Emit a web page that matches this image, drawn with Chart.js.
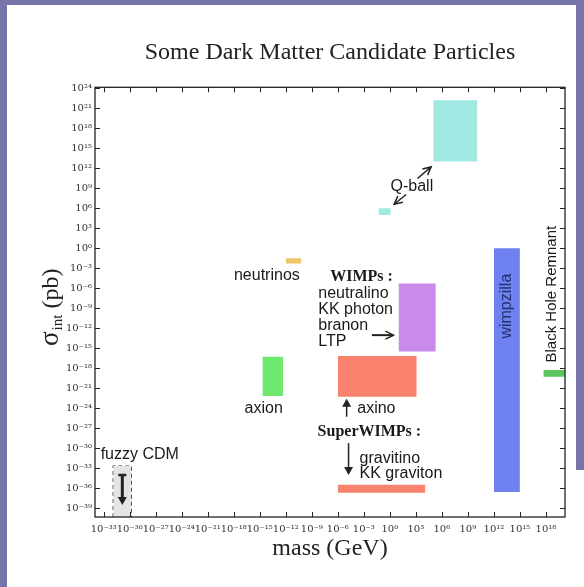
<!DOCTYPE html>
<html>
<head>
<meta charset="utf-8">
<script src="https://cdn.jsdelivr.net/npm/chart.js@4.4.0/dist/chart.umd.min.js"></script>
<style>
  html, body { margin: 0; padding: 0; background: #fff; }
</style>
</head>
<body>
<canvas id="chart" width="584" height="587"></canvas>
<script>
// every value is log10 (mass in GeV, cross section in pb)
const candidates = ['fuzzy CDM', 'axion', 'neutrinos', 'Q-ball', 'Q-ball', 'WIMPs', 'axino', 'gravitino / KK graviton', 'wimpzilla', 'Black Hole Remnant'];
const massLow   = [-31.9, -14.7, -12.0, -1.3,  5.0,   1.0,  -6.0,  -6.0,  12.0,  17.7];
const massHigh  = [-29.8, -12.3, -10.2,  0.1, 10.1,   5.3,   3.1,   4.1,  15.0,  20.2];
const sigmaLow  = [-40.35, -22.2, -2.3,  5.0, 13.0, -15.5, -22.3, -36.7, -36.6, -19.3];
const sigmaHigh = [-32.7, -16.3,  -1.5,  6.0, 22.2,  -5.3, -16.2, -35.5,   0.0, -18.3];

const massTicks  = [-33, -30, -27, -24, -21, -18, -15, -12, -9, -6, -3, 0, 3, 6, 9, 12, 15, 18];
const sigmaTicks = [-39, -36, -33, -30, -27, -24, -21, -18, -15, -12, -9, -6, -3, 0, 3, 6, 9, 12, 15, 18, 21, 24];

const boxColors = ['#e4e4e4', '#6fe86f', '#f2c46c', '#9fe9e2', '#9fe9e2', '#c98ae9', '#f8826d', '#f8826d', '#6f80f0', '#5cc65c'];

const sup = {'-': '\u207B', '0': '\u2070', '1': '\u00B9', '2': '\u00B2', '3': '\u00B3', '4': '\u2074',
             '5': '\u2075', '6': '\u2076', '7': '\u2077', '8': '\u2078', '9': '\u2079'};
const powerLabel = v => '10' + String(v).split('').map(c => sup[c]).join('');

const datasets = candidates.map((name, i) => ({
  label: name,
  data: [{x: massLow[i], y: sigmaHigh[i]}, {x: massHigh[i], y: sigmaHigh[i]}],
  showLine: true,
  borderWidth: 0,
  pointRadius: 0,
  backgroundColor: boxColors[i],
  fill: {value: sigmaLow[i]}
}));
// dashed outline of the fuzzy CDM box
datasets.push({
  label: 'fuzzy CDM outline',
  data: [{x: massLow[0], y: sigmaLow[0]}, {x: massLow[0], y: sigmaHigh[0]},
         {x: massHigh[0], y: sigmaHigh[0]}, {x: massHigh[0], y: sigmaLow[0]}],
  showLine: true,
  borderColor: '#333',
  borderWidth: 1.2,
  borderDash: [4, 3],
  pointRadius: 0,
  fill: false
});

const SANS = '"Liberation Sans", Arial, sans-serif';
const SERIF = '"Liberation Serif", "Times New Roman", serif';
const TICKFONT = '"DejaVu Serif", serif';

const notes = [
  {t: 'fuzzy CDM', x: -33.35, y: -31.05, align: 'left'},
  {t: 'axion', x: -14.55, y: -24.05},
  {t: 'neutrinos', x: -14.18, y: -4.05},
  {t: 'Q-ball', x: 2.54, y: 9.2},
  {t: 'WIMPs :', x: -6.87, y: -4.3, align: 'left', font: 'bold 16px ' + SERIF},
  {t: 'neutralino', x: -8.25, y: -6.8, align: 'left'},
  {t: 'KK photon', x: -8.25, y: -9.15, align: 'left'},
  {t: 'branon', x: -8.25, y: -11.65, align: 'left'},
  {t: 'LTP', x: -8.25, y: -14.05, align: 'left'},
  {t: 'axino', x: -3.76, y: -24.05, align: 'left'},
  {t: 'SuperWIMPs :', x: -8.33, y: -27.55, align: 'left', font: 'bold 16px ' + SERIF},
  {t: 'gravitino', x: -3.49, y: -31.55, align: 'left'},
  {t: 'KK graviton', x: -3.49, y: -33.8, align: 'left'},
  {t: 'wimpzilla', x: 13.48, y: -8.7, rot: true, color: '#24306e'},
  {t: 'Black Hole Remnant', x: 18.63, y: -6.9, rot: true, font: '15px ' + SANS}
];

const arrows = [
  {from: [3.19, 10.46], to: [4.76, 12.2]},
  {from: [1.88, 8.06], to: [0.5, 6.6]},
  {from: [-2.07, -13.05], to: [0.42, -13.05], width: 2},
  {from: [-4.98, -25.3], to: [-4.98, -22.6], filled: true},
  {from: [-4.76, -29.25], to: [-4.76, -34.05], filled: true},
  {from: [-30.85, -34.05], to: [-30.85, -38.55], filled: true, tee: true, width: 3}
];

function drawArrow(ctx, x1, y1, x2, y2, a) {
  const ang = Math.atan2(y2 - y1, x2 - x1);
  const hl = 8, hw = a.filled ? 4.5 : 4;
  const c = Math.cos(ang), s = Math.sin(ang);
  ctx.lineWidth = a.width || 1.5;
  ctx.beginPath();
  ctx.moveTo(x1, y1);
  ctx.lineTo(a.filled ? x2 - hl * 0.7 * c : x2, a.filled ? y2 - hl * 0.7 * s : y2);
  ctx.stroke();
  const bx = x2 - hl * c, by = y2 - hl * s;
  ctx.beginPath();
  ctx.moveTo(bx - s * hw, by + c * hw);
  ctx.lineTo(x2, y2);
  ctx.lineTo(bx + s * hw, by - c * hw);
  if (a.filled) { ctx.closePath(); ctx.fill(); } else { ctx.lineWidth = 1.5; ctx.stroke(); }
  if (a.tee) {
    ctx.lineWidth = 2.5;
    ctx.beginPath();
    ctx.moveTo(x1 - s * 4, y1 + c * 4);
    ctx.lineTo(x1 + s * 4, y1 - c * 4);
    ctx.stroke();
  }
}

const decor = {
  id: 'decor',
  beforeDraw(chart) {
    const ctx = chart.ctx;
    ctx.save();
    ctx.fillStyle = '#fff';
    ctx.fillRect(0, 0, chart.width, chart.height);
    ctx.fillStyle = '#7575a9';
    ctx.fillRect(0, 0, 7, chart.height);
    ctx.fillRect(0, 0, chart.width, 5);
    ctx.fillRect(576, 0, 8, 470);
    ctx.restore();
  },
  afterDatasetsDraw(chart) {
    const ctx = chart.ctx;
    const {left, right, top, bottom} = chart.chartArea;
    const xs = chart.scales.x, ys = chart.scales.y;
    ctx.save();
    ctx.strokeStyle = '#222';
    ctx.fillStyle = '#222';
    ctx.lineWidth = 1;
    ctx.beginPath();
    massTicks.forEach(v => {
      const px = Math.round(xs.getPixelForValue(v)) + 0.5;
      ctx.moveTo(px, bottom); ctx.lineTo(px, bottom - 5);
      ctx.moveTo(px, top); ctx.lineTo(px, top + 5);
    });
    sigmaTicks.forEach(v => {
      const py = Math.round(ys.getPixelForValue(v)) + 0.5;
      ctx.moveTo(left, py); ctx.lineTo(left + 5, py);
      ctx.moveTo(right, py); ctx.lineTo(right - 5, py);
    });
    ctx.stroke();
    ctx.lineWidth = 1.3;
    ctx.strokeRect(left, top, right - left, bottom - top);

    arrows.forEach(a => {
      drawArrow(ctx, xs.getPixelForValue(a.from[0]), ys.getPixelForValue(a.from[1]),
                xs.getPixelForValue(a.to[0]), ys.getPixelForValue(a.to[1]), a);
    });

    ctx.textBaseline = 'middle';
    notes.forEach(n => {
      const px = xs.getPixelForValue(n.x), py = ys.getPixelForValue(n.y);
      ctx.font = n.font || '16px ' + SANS;
      ctx.fillStyle = n.color || '#1a1a1a';
      ctx.textAlign = n.align || 'center';
      if (n.rot) {
        ctx.save();
        ctx.translate(px, py);
        ctx.rotate(-Math.PI / 2);
        ctx.textAlign = 'center';
        ctx.fillText(n.t, 0, 0);
        ctx.restore();
      } else {
        ctx.fillText(n.t, px, py);
      }
    });
    ctx.restore();
  },
  afterDraw(chart) {
    // y axis title: sigma with "int" subscript, then (pb)
    const ctx = chart.ctx;
    ctx.save();
    ctx.translate(58, 346);
    ctx.rotate(-Math.PI / 2);
    ctx.fillStyle = '#222';
    ctx.textBaseline = 'alphabetic';
    ctx.textAlign = 'left';
    let cx = 0;
    ctx.font = '27px ' + SERIF;
    ctx.fillText('\u03C3', cx, 0);
    cx += ctx.measureText('\u03C3').width + 1;
    ctx.font = '15px ' + SERIF;
    ctx.fillText('int', cx, 4);
    cx += ctx.measureText('int').width;
    ctx.font = '24px ' + SERIF;
    ctx.fillText(' (pb)', cx, 0);
    ctx.restore();
  }
};

new Chart(document.getElementById('chart'), {
  type: 'scatter',
  data: {datasets},
  options: {
    responsive: false,
    animation: false,
    layout: {padding: {left: 0, top: 0, right: 19, bottom: 0}},
    plugins: {
      legend: {display: false},
      tooltip: {enabled: false},
      title: {
        display: true,
        text: 'Some Dark Matter Candidate Particles',
        fullSize: false,
        color: '#222',
        font: {family: SERIF, size: 24, weight: 'normal', lineHeight: 1.2},
        padding: {top: 38, bottom: 20.5}
      }
    },
    scales: {
      x: {
        type: 'linear',
        min: -34,
        max: 20.2,
        afterBuildTicks: s => { s.ticks = massTicks.map(v => ({value: v})); },
        afterFit: s => { s.height = 70; },
        grid: {display: false, drawTicks: false},
        border: {display: false},
        ticks: {
          callback: v => powerLabel(v),
          autoSkip: false, maxRotation: 0,
          padding: 6,
          color: '#333',
          font: {family: TICKFONT, size: 10}
        },
        title: {
          display: true,
          text: 'mass (GeV)',
          color: '#222',
          font: {family: SERIF, size: 24, lineHeight: 1.2},
          padding: {top: 0, bottom: 24}
        }
      },
      y: {
        type: 'linear',
        min: -40.35,
        max: 24.15,
        afterBuildTicks: s => { s.ticks = sigmaTicks.map(v => ({value: v})); },
        afterFit: s => { s.width = 95; },
        grid: {display: false, drawTicks: false},
        border: {display: false},
        ticks: {
          callback: v => powerLabel(v),
          autoSkip: false,
          padding: 3,
          color: '#333',
          font: {family: TICKFONT, size: 10}
        }
      }
    }
  },
  plugins: [decor]
});
</script>
</body>
</html>
